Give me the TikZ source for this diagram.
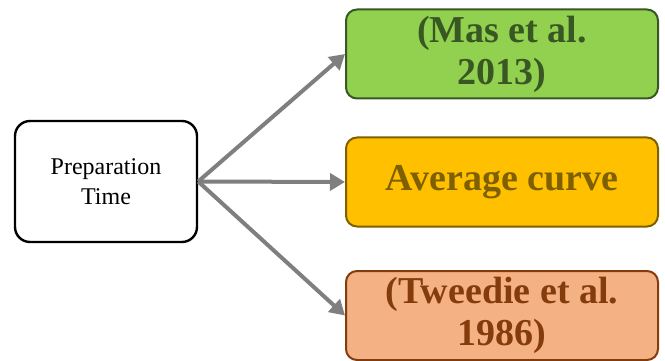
\documentclass[tikz,border=0pt]{standalone}
\usepackage{fontspec}
\setmainfont{Liberation Serif}
\usetikzlibrary{arrows.meta}

\definecolor{masfill}{HTML}{92D050}
\definecolor{masdraw}{HTML}{385723}
\definecolor{avgfill}{HTML}{FFC000}
\definecolor{avgdraw}{HTML}{7F6000}
\definecolor{twefill}{HTML}{F4B183}
\definecolor{twedraw}{HTML}{843C0C}
\definecolor{arrowgray}{HTML}{7F7F7F}

\begin{document}
\begin{tikzpicture}[x=1pt,y=-1pt,
  srcbox/.style={draw=black, line width=2.4pt, rounded corners=15pt, fill=white,
    minimum width=182pt, minimum height=121pt, inner sep=0pt, align=center,
    font=\fontsize{24}{30}\selectfont},
  refbox/.style={rounded corners=11pt, line width=2pt,
    minimum width=312pt, minimum height=89pt, inner sep=0pt, align=center,
    font=\fontsize{38}{42}\selectfont\bfseries},
  link/.style={draw=arrowgray, line width=4pt, -{Triangle[length=15pt,width=17pt]}}]

  %--- Cadre ---
  \useasboundingbox (0,0) rectangle (665,361);

  %--- Boites ---
  \node[srcbox] (prep) at (106,181.5) {Preparation\\Time};
  \node[refbox, draw=masdraw, fill=masfill, text=masdraw] (mas) at (502,54) {(Mas et al.\\2013)};
  \node[refbox, draw=avgdraw, fill=avgfill, text=avgdraw] (avg) at (502,182) {Average curve};
  \node[refbox, draw=twedraw, fill=twefill, text=twedraw] (twe) at (502,315.5) {(Tweedie et al.\\1986)};

  %--- Fleches ---
  \draw[link] (prep.east) -- (mas.west);
  \draw[link] (prep.east) -- (avg.west);
  \draw[link] (prep.east) -- (twe.west);

\end{tikzpicture}
\end{document}
